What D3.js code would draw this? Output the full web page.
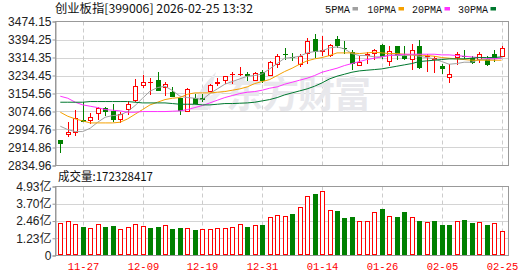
<!DOCTYPE html>
<html>
<head>
<meta charset="utf-8">
<script src="https://cdn.jsdelivr.net/npm/d3@7"></script>
<style>
body { margin: 0; background: #fff; }
svg { display: block; }
</style>
</head>
<body>
<div id="chart"></div>
<script>
// 创业板指 日K 数据 (读自图片)
var dates = ["11-24","11-25","11-26","11-27","11-28","12-01","12-02","12-03","12-04","12-05",
  "12-08","12-09","12-10","12-11","12-12","12-15","12-16","12-17","12-18","12-19",
  "12-22","12-23","12-24","12-25","12-26","12-29","12-30","12-31","01-05","01-06",
  "01-07","01-08","01-09","01-12","01-13","01-14","01-15","01-16","01-19","01-20",
  "01-21","01-22","01-23","01-26","01-27","01-28","01-29","01-30","02-02","02-03",
  "02-04","02-05","02-06","02-09","02-10","02-11","02-12","02-13","02-24","02-25"];

var open = [2947.1,2970.8,2979.7,3038.9,3033.0,3065.5,3092.1,3077.4,3038.9,3083.3,
  3121.7,3189.8,3203.0,3213.5,3178.0,3160.3,3133.6,3074.4,3133.6,3136.5,
  3160.3,3198.7,3210.5,3237.2,3240.1,3240.1,3210.5,3249.0,3234.2,3281.6,
  3329.0,3317.1,3281.6,3329.0,3397.0,3340.8,3320.0,3397.0,3355.6,3337.8,
  3275.7,3323.0,3329.0,3370.4,3296.4,3364.5,3323.0,3305.3,3367.4,3317.1,
  3305.3,3278.7,3225.4,3311.2,3323.0,3314.2,3305.3,3308.3,3331.9,3317.1];
var high = [2950.0,3027.0,3080.3,3115.8,3068.5,3095.0,3095.0,3107.0,3074.4,3121.7,
  3219.4,3237.2,3222.4,3249.0,3204.6,3184.0,3136.5,3181.0,3154.3,3154.3,
  3198.7,3222.4,3234.2,3249.0,3272.7,3252.0,3252.0,3257.9,3299.4,3329.0,
  3355.6,3334.9,3329.0,3403.0,3420.7,3408.9,3373.4,3408.9,3388.2,3346.7,
  3323.0,3340.8,3352.6,3373.4,3367.4,3367.4,3364.5,3373.4,3391.1,3332.0,
  3323.0,3284.6,3287.5,3340.8,3349.6,3323.0,3337.8,3323.0,3346.7,3364.5];
var low = [2891.0,2960.4,2964.9,3030.0,3019.6,3038.9,3056.6,3027.0,3024.0,3059.6,
  3115.8,3181.0,3150.0,3166.2,3142.5,3139.5,3059.6,3074.4,3109.9,3118.8,
  3160.3,3189.8,3195.8,3198.7,3231.3,3210.5,3210.5,3201.7,3234.2,3266.8,
  3305.3,3299.4,3272.7,3287.5,3314.2,3323.0,3317.1,3358.6,3329.0,3260.9,
  3275.7,3287.5,3305.3,3308.3,3275.7,3305.3,3305.3,3260.9,3263.9,3249.0,
  3246.0,3243.1,3201.7,3281.6,3308.3,3287.5,3290.5,3278.7,3296.4,3317.1];
var close = [2930.8,2982.6,3044.8,3030.0,3052.2,3092.1,3074.4,3038.9,3062.5,3109.9,
  3189.8,3207.6,3205.5,3166.2,3195.8,3139.5,3077.4,3175.0,3109.9,3124.7,
  3192.8,3204.6,3231.3,3240.1,3243.1,3231.3,3246.0,3210.5,3296.4,3323.0,
  3326.0,3314.2,3323.0,3388.2,3340.8,3349.6,3370.4,3364.5,3352.6,3287.5,
  3296.4,3329.0,3349.6,3317.1,3343.7,3320.0,3308.3,3349.6,3269.8,3320.0,
  3314.2,3263.9,3240.1,3332.0,3320.0,3290.5,3329.0,3281.6,3311.2,3358.6];
var prevClose = 2905.0;

// 成交量 (亿)
var volume = [2.30,2.46,2.25,2.03,1.96,2.25,2.03,2.11,1.89,2.03,
  2.25,2.11,1.96,2.03,2.18,1.89,1.96,1.96,1.82,1.89,
  1.89,1.96,1.96,2.03,2.25,2.03,2.18,2.18,2.75,2.90,
  2.82,2.97,3.45,4.24,4.40,4.59,3.23,3.18,2.68,2.75,
  2.46,2.46,3.09,3.33,2.82,2.75,3.11,2.73,2.46,2.39,
  2.46,2.18,2.18,2.46,2.54,2.32,2.39,2.18,2.32,1.72];

var ma5 = [3009.2,2994.4,2985.6,2985.6,3000.4,3027.0,3049.2,3056.6,3059.6,3074.4,
  3101.0,3133.6,3165.0,3180.9,3186.8,3167.6,3142.4,3136.5,3133.6,3127.6,
  3154.3,3175.0,3195.7,3207.6,3219.4,3231.2,3234.2,3241.6,3263.8,3287.5,
  3311.2,3314.1,3320.0,3334.8,3340.8,3343.7,3357.0,3361.5,3352.6,3331.9,
  3323.0,3323.0,3317.1,3317.1,3326.0,3323.0,3323.0,3326.0,3320.0,3314.1,
  3308.2,3296.4,3284.5,3287.5,3293.4,3293.4,3305.2,3305.2,3308.2,3311.2];
var ma10 = [3071.4,3053.6,3041.8,3032.9,3024.0,3024.0,3024.0,3024.0,3027.0,3041.8,
  3062.5,3083.2,3104.0,3115.8,3127.6,3133.6,3136.5,3151.3,3157.2,3157.2,
  3157.2,3160.2,3163.2,3169.1,3175.0,3183.9,3198.7,3207.6,3216.4,3234.2,
  3252.0,3266.8,3284.5,3299.3,3308.2,3314.1,3323.0,3334.8,3334.8,3334.8,
  3331.9,3334.8,3337.8,3334.8,3331.9,3331.9,3328.9,3326.0,3326.0,3323.0,
  3320.0,3314.1,3311.2,3308.2,3305.2,3302.3,3302.3,3302.3,3302.3,3302.3];
var ma20 = [3142.4,3133.6,3115.8,3104.0,3098.0,3092.1,3083.2,3080.3,3077.3,3071.4,
  3071.4,3074.4,3074.4,3074.4,3074.4,3075.8,3077.3,3083.2,3092.1,3101.0,
  3112.8,3124.7,3136.5,3145.4,3154.3,3160.2,3163.2,3169.1,3178.0,3183.9,
  3195.7,3204.6,3213.5,3222.4,3234.2,3249.0,3257.9,3266.8,3278.6,3287.5,
  3296.4,3305.2,3311.2,3317.1,3323.0,3326.0,3328.9,3328.9,3328.9,3328.9,
  3328.9,3326.0,3326.0,3323.0,3320.0,3317.1,3314.1,3311.2,3308.2,3311.2];
var ma30 = [3115.8,3115.8,3115.8,3115.8,3118.8,3118.8,3118.8,3118.8,3118.8,3118.8,
  3115.8,3112.8,3112.8,3112.8,3112.8,3109.9,3106.9,3106.9,3106.9,3104.0,
  3104.0,3106.9,3109.9,3109.9,3111.4,3112.8,3115.8,3121.7,3127.6,3136.5,
  3148.4,3157.2,3166.1,3175.0,3186.8,3201.6,3219.4,3231.2,3240.1,3249.0,
  3254.9,3257.9,3260.8,3263.8,3269.7,3275.6,3281.6,3287.5,3296.4,3299.3,
  3302.3,3305.2,3308.2,3308.2,3308.2,3311.2,3314.1,3314.1,3314.1,3317.1];

var priceTicks = ["3474.15","3394.25","3314.35","3234.45","3154.56","3074.66","2994.76","2914.86","2834.96"];
var volTicks = [4.93, 3.70, 2.46, 1.23, 0];
var dateTicks = ["11-27","12-09","12-19","12-31","01-14","01-26","02-05","02-25"];
var maNames = ["5PMA","10PMA","20PMA","30PMA"];
var maColors = ["#a0a0a0","#f5a000","#ff33ff","#00782f"];

var W = 530, H = 276;
var pLeft = 55, pRight = 509, pTop = 21.5, pBottom = 165.5, vTop = 186.5, vBottom = 255.5;
var RED = "#ff0000", GREEN = "#008000";

var svg = d3.select("#chart").append("svg").attr("width", W).attr("height", H)
  .style("font-family", "'Liberation Sans','Noto Sans CJK SC',sans-serif");

var x = d3.scalePoint().domain(dates).range([60.3, 501.5]);
var y = d3.scaleLinear().domain([2834.96, 3474.15]).range([pBottom, pTop]);
var yv = d3.scaleLinear().domain([0, 4.93]).range([vBottom, vTop]);
var px = function(d){ return Math.round(x(d)); };

// grids
var grid = svg.append("g");
priceTicks.slice(1, -1).forEach(function(t){
  var yy = Math.round(y(+t)) + 0.5;
  grid.append("line").attr("x1", pLeft).attr("x2", pRight).attr("y1", yy).attr("y2", yy)
    .attr("stroke", "#d4d4d4");
});
volTicks.slice(1, -1).forEach(function(t){
  var yy = Math.round(yv(t)) + 0.5;
  grid.append("line").attr("x1", pLeft).attr("x2", pRight).attr("y1", yy).attr("y2", yy)
    .attr("stroke", "#d4d4d4");
});
dateTicks.forEach(function(d){
  var xx = px(d) + 0.5;
  [[pTop, pBottom], [vTop, vBottom]].forEach(function(r){
    grid.append("line").attr("x1", xx).attr("x2", xx).attr("y1", r[0]).attr("y2", r[1])
      .attr("stroke", "#cccccc").attr("stroke-dasharray", "4,3");
  });
});

// watermark
var wm = svg.append("g").attr("fill", "#e8e8ec");
wm.append("path").attr("d", "M190,110 C196,96 204,84 216,72 C212,86 209,97 208,110 Z");
wm.append("path").attr("d", "M200,104 C208,96 216,92 226,90 C218,96 212,102 210,110 Z").attr("fill", "#eeeef2");
wm.append("text").attr("x", 226).attr("y", 108).attr("font-size", 37)
  .attr("font-family", "'Noto Sans CJK SC',sans-serif").attr("font-weight", "bold")
  .attr("letter-spacing", -1).text("东方财富");

// candles
var candles = svg.append("g");
dates.forEach(function(d, i){
  var o = open[i], c = close[i], pc = i ? close[i - 1] : prevClose;
  var up = c > o || (c === o && c >= pc);
  var col = up ? RED : GREEN;
  var cx = px(d);
  var yt = Math.round(y(Math.max(o, c))), yb = Math.round(y(Math.min(o, c)));
  var yh = Math.round(y(high[i])), yl = Math.round(y(low[i]));
  if (up) {
    if (yh < yt) candles.append("line").attr("x1", cx + 0.5).attr("x2", cx + 0.5).attr("y1", yh).attr("y2", yt).attr("stroke", col);
    if (yl > yb) candles.append("line").attr("x1", cx + 0.5).attr("x2", cx + 0.5).attr("y1", yb).attr("y2", yl).attr("stroke", col);
    if (yb - yt >= 2) {
      candles.append("rect").attr("x", cx - 1.5).attr("y", yt + 0.5).attr("width", 4).attr("height", yb - yt - 1)
        .attr("fill", "#fff").attr("stroke", col);
    } else {
      candles.append("rect").attr("x", cx - 2).attr("y", yt).attr("width", 5).attr("height", Math.max(1, yb - yt)).attr("fill", col);
    }
  } else {
    candles.append("line").attr("x1", cx + 0.5).attr("x2", cx + 0.5).attr("y1", yh).attr("y2", yl).attr("stroke", col);
    candles.append("rect").attr("x", cx - 2).attr("y", yt).attr("width", 5).attr("height", Math.max(1, yb - yt)).attr("fill", col);
  }
});

// moving averages
var line = d3.line().x(function(d, i){ return x(dates[i]); }).y(function(d){ return y(d); });
[ma5, ma10, ma20, ma30].forEach(function(s, k){
  svg.append("path").datum(s).attr("d", line).attr("fill", "none")
    .attr("stroke", maColors[k]).attr("stroke-width", 1);
});

// volume bars
var vol = svg.append("g");
dates.forEach(function(d, i){
  var pc = i ? close[i - 1] : prevClose;
  var up = close[i] >= pc;
  var cx = px(d);
  var yt = Math.round(yv(volume[i]));
  if (up) {
    vol.append("rect").attr("x", cx - 1.5).attr("y", yt + 0.5).attr("width", 4).attr("height", vBottom - 0.5 - yt - 1)
      .attr("fill", "#fff").attr("stroke", RED);
  } else {
    vol.append("rect").attr("x", cx - 2).attr("y", yt).attr("width", 5).attr("height", vBottom - 0.5 - yt).attr("fill", GREEN);
  }
});

// frames
[[pTop, pBottom], [vTop, vBottom]].forEach(function(r){
  svg.append("rect").attr("x", pLeft + 0.5).attr("y", r[0]).attr("width", pRight - pLeft - 1).attr("height", r[1] - r[0])
    .attr("fill", "none").attr("stroke", "#999999");
});

// axes
var yAxis = d3.axisLeft(y).tickValues(priceTicks.map(Number)).tickSize(3).tickPadding(1)
  .tickFormat(function(v, i){ return priceTicks[i]; });
svg.append("g").attr("transform", "translate(" + (pLeft + 0.5) + ",0)").call(yAxis);
var vAxis = d3.axisLeft(yv).tickValues(volTicks).tickSize(3).tickPadding(1)
  .tickFormat(function(v){ return v === 0 ? "0" : v.toFixed(2) + "亿"; });
svg.append("g").attr("transform", "translate(" + (pLeft + 0.5) + ",0)").call(vAxis);
svg.selectAll(".tick text").attr("font-size", 12).attr("fill", "#222")
  .attr("font-family", "'Liberation Sans','Noto Sans CJK SC',sans-serif");
svg.selectAll(".tick line").attr("stroke", "#999999");
svg.selectAll(".domain").attr("stroke", "#999999");

// date labels
svg.append("g").selectAll("text").data(dateTicks).join("text")
  .attr("x", function(d){ return px(d) + 0.5; }).attr("y", 270)
  .attr("text-anchor", "middle").attr("font-size", 10.5).attr("fill", RED)
  .attr("font-family", "'Liberation Mono',monospace").text(function(d){ return d; });

// header
svg.append("text").attr("x", 55).attr("y", 13).attr("font-size", 12).attr("fill", "#111")
  .attr("font-family", "'Noto Sans CJK SC',sans-serif")
  .attr("textLength", 198).attr("lengthAdjust", "spacingAndGlyphs")
  .text("创业板指[399006] 2026-02-25 13:32");

// legend
var legX = [325, 367.5, 412, 458], legW = [25, 28.5, 30, 30];
maNames.forEach(function(n, k){
  svg.append("text").attr("x", legX[k]).attr("y", 12.5).attr("font-size", 11).attr("fill", "#111")
    .attr("font-family", "'Liberation Mono',monospace")
    .attr("textLength", legW[k]).attr("lengthAdjust", "spacingAndGlyphs").text(n);
  svg.append("rect").attr("x", legX[k] + legW[k] + 2.5).attr("y", 7).attr("width", 5.5).attr("height", 3.5)
    .attr("fill", maColors[k]);
});

// volume title
svg.append("text").attr("x", 58).attr("y", 181).attr("font-size", 12).attr("fill", "#111")
  .attr("font-family", "'Noto Sans CJK SC',sans-serif")
  .attr("textLength", 95).attr("lengthAdjust", "spacingAndGlyphs")
  .text("成交量:" + "172328417");
</script>
</body>
</html>
